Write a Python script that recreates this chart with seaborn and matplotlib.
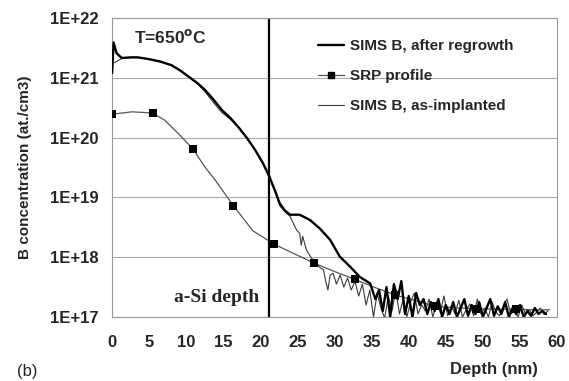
import numpy as np
import pandas as pd
import seaborn as sns
import matplotlib.pyplot as plt
from matplotlib.lines import Line2D
from matplotlib.ticker import FixedLocator, NullLocator

# SIMS B after regrowth (depth in nm, log10 of concentration)
regrowth_depth = [0.0, 0.2, 0.6, 1.3, 2.5, 3.5, 5.0, 6.5, 8.0, 9.2, 10.3, 11.5, 12.5, 13.7,
                  14.8, 16.0, 17.0, 18.2, 19.3, 20.3, 21.2, 22.0, 22.6, 23.3, 24.0, 25.3,
                  26.7, 28.0, 29.4, 30.7, 32.1, 33.4, 34.8, 35.5,
                  36.0, 36.5, 37.0, 37.5, 38.0, 38.5, 39.0, 39.5, 40.0, 40.5, 41.0, 41.5,
                  42.0, 42.5, 43.0, 43.5, 44.0, 44.5, 45.0, 45.5, 46.0, 46.5, 47.0, 47.5,
                  48.0, 48.5, 49.0, 49.5, 50.0, 50.5, 51.0, 51.5, 52.0, 52.5, 53.0, 53.5,
                  54.0, 54.5, 55.0, 55.5, 56.0, 56.5, 57.0, 57.5, 58.0, 58.5]
regrowth_log = [21.08, 21.59, 21.41, 21.33, 21.34, 21.34, 21.31, 21.27, 21.21, 21.12, 21.02,
                20.91, 20.80, 20.63, 20.46, 20.32, 20.18, 19.99, 19.79, 19.58, 19.35, 19.10,
                18.90, 18.78, 18.71, 18.71, 18.62, 18.48, 18.29, 18.01, 17.84, 17.67, 17.56,
                17.30,
                17.45, 17.10, 17.50, 17.00, 17.55, 17.30, 17.60, 17.05, 17.35, 17.00, 17.40,
                17.20, 17.30, 17.05, 17.25, 17.10, 17.30, 17.00, 17.20, 17.05, 17.25, 17.00,
                17.15, 17.30, 17.02, 17.20, 17.05, 17.25, 17.00, 17.15, 17.30, 17.02, 17.18,
                17.05, 17.25, 17.00, 17.15, 17.05, 17.20, 17.00, 17.10, 17.02, 17.15, 17.05,
                17.10, 17.05]

# SIMS B as-implanted
implant_depth = [0.3, 1.3, 2.5, 3.5, 5.0, 6.5, 8.0, 9.2, 10.3, 11.5, 12.5, 13.7, 14.8, 16.0,
                 17.0, 18.2, 19.3, 20.3, 21.2, 22.0, 22.6, 23.3, 24.0, 24.5, 24.9, 25.3, 25.5,
                 25.7, 26.2, 26.7, 27.1, 27.6, 28.1, 28.5, 28.8, 29.1, 29.4, 29.8, 30.25,
                 30.75, 31.25, 31.75, 32.25, 32.75, 33.25, 33.75, 34.25, 34.75, 35.25, 35.75,
                 36.25, 36.75, 37.25, 37.75, 38.25, 38.75, 39.25, 39.75, 40.25, 40.75, 41.25,
                 41.75, 42.25, 42.75, 43.25, 43.75, 44.25, 44.75, 45.25, 45.75, 46.25, 46.75,
                 47.25, 47.75, 48.25, 48.75, 49.25, 49.75, 50.25, 50.75, 51.25, 51.75, 52.25,
                 52.75, 53.25, 53.75, 54.25, 54.75, 55.25, 55.75, 56.25, 56.75, 57.25, 57.75,
                 58.25, 58.75]
implant_log = [21.25, 21.32, 21.34, 21.34, 21.31, 21.27, 21.21, 21.12, 21.02, 20.90, 20.77,
               20.58, 20.42, 20.30, 20.17, 19.99, 19.79, 19.58, 19.35, 19.10, 18.86, 18.76,
               18.68, 18.55, 18.45, 18.40, 18.20, 18.35, 18.12, 18.02, 17.95, 17.88, 17.82,
               17.79, 17.60, 17.45, 17.70, 17.73, 17.55, 17.70, 17.50, 17.65, 17.45, 17.60,
               17.35, 17.55, 17.20, 17.45, 17.00, 17.40, 17.15, 16.98, 17.35, 17.10, 17.45,
               17.05, 17.30, 17.00, 17.25, 17.40, 17.05, 17.20, 17.10, 17.30, 17.00, 17.22,
               17.08, 17.35, 17.02, 17.18, 17.05, 17.28, 17.00, 17.12, 17.22, 17.02, 17.30,
               17.05, 17.15, 17.00, 17.25, 17.08, 17.02, 17.18, 17.30, 17.05, 17.10, 17.00,
               17.20, 17.05, 17.12, 17.02, 17.08, 17.15, 17.04, 17.10]

# SRP profile: measured points and the smooth line drawn through them
srp_depth = [0.0, 5.45, 10.9, 16.35, 21.8, 27.25, 32.7, 38.15, 43.6, 49.05, 54.5]
srp_log = [20.39, 20.41, 19.81, 18.86, 18.22, 17.90, 17.63, 17.37, 17.18, 17.14, 17.13]
srp_line_depth = [0.0, 2.7, 5.45, 7.1, 8.9, 10.9, 12.5, 13.9, 16.35, 19.0, 21.8, 24.0,
                  27.25, 30.0, 32.7, 35.5, 38.15, 41.0, 43.6, 46.5, 49.05, 52.0, 54.5, 57.0, 59.0]
srp_line_log = [20.39, 20.43, 20.41, 20.29, 20.07, 19.81, 19.51, 19.29, 18.86, 18.44, 18.22,
                18.09, 17.90, 17.76, 17.63, 17.49, 17.37, 17.27, 17.18, 17.15, 17.14, 17.13,
                17.13, 17.12, 17.12]

y_ticks = [1e17, 1e18, 1e19, 1e20, 1e21, 1e22]
y_tick_labels = ["1E+17", "1E+18", "1E+19", "1E+20", "1E+21", "1E+22"]
x_ticks = list(range(0, 61, 5))
asi_depth = 21.2

regrowth = pd.DataFrame({"depth": regrowth_depth, "conc": 10.0 ** np.array(regrowth_log)})
implant = pd.DataFrame({"depth": implant_depth, "conc": 10.0 ** np.array(implant_log)})
srp = pd.DataFrame({"depth": srp_depth, "conc": 10.0 ** np.array(srp_log)})
srp_line = pd.DataFrame({"depth": srp_line_depth, "conc": 10.0 ** np.array(srp_line_log)})

sns.set_style("white")
plt.rcParams["font.family"] = ["Liberation Sans", "DejaVu Sans"]
plt.rcParams["font.weight"] = "bold"

fig = plt.figure(figsize=(5.69, 3.81), dpi=100)
ax = fig.add_axes([0.197, 0.168, 0.782, 0.785])
ax.set_yscale("log")

srp_color = "#555555"
implant_color = "#3a3a3a"
sns.lineplot(data=implant, x="depth", y="conc", ax=ax, color=implant_color, lw=0.8,
             sort=False, estimator=None)
sns.lineplot(data=srp_line, x="depth", y="conc", ax=ax, color=srp_color, lw=0.9,
             sort=False, estimator=None)
sns.scatterplot(data=srp, x="depth", y="conc", ax=ax, color="black", marker="s", s=30,
                linewidth=0, zorder=4)
sns.lineplot(data=regrowth, x="depth", y="conc", ax=ax, color="black", lw=1.7,
             sort=False, estimator=None, zorder=5)

ax.axvline(asi_depth, color="black", lw=1.6)

ax.set_xlim(0, 60)
ax.set_ylim(1e17, 1e22)
ax.xaxis.set_major_locator(FixedLocator(x_ticks))
ax.yaxis.set_major_locator(FixedLocator(y_ticks))
ax.yaxis.set_minor_locator(NullLocator())
ax.set_yticklabels(y_tick_labels)
ax.tick_params(axis="x", length=0, pad=13, labelsize=12)
ax.tick_params(axis="y", length=3.5, color="#888888", pad=6, labelsize=12)
ax.grid(axis="y", color="#aaaaaa", lw=0.8)
for sp in ax.spines.values():
    sp.set_color("#999999")
    sp.set_linewidth(0.8)

ax.set_ylabel("B concentration (at./cm3)", fontsize=11, fontweight="bold", labelpad=13)
ax.set_xlabel("")
fig.text(0.868, 0.029, "Depth (nm)", ha="center", va="center", fontsize=12, fontweight="bold")
fig.text(0.03, 0.024, "(b)", ha="left", va="center", fontsize=12, fontweight="normal")

ax.text(3.0, 10 ** 21.68, r"T=650$^{\mathbf{o}}$C", fontsize=12.5, fontweight="bold",
        ha="left", va="center")
ax.text(19.8, 10 ** 17.32, "a-Si depth", fontsize=14, fontweight="bold",
        family=["Liberation Serif", "DejaVu Serif"], ha="right", va="center")

handles = [
    Line2D([], [], color="black", lw=1.7),
    Line2D([], [], color=srp_color, lw=0.9, marker="s", markersize=5,
           markerfacecolor="black", markeredgecolor="black"),
    Line2D([], [], color=implant_color, lw=0.8),
]
labels = ["SIMS B, after regrowth", "SRP profile", "SIMS B, as-implanted"]
ax.legend(handles, labels, loc="upper left", bbox_to_anchor=(0.445, 0.955), frameon=False,
          fontsize=11, handlelength=1.7, handletextpad=0.4, labelspacing=1.05, borderpad=0)

fig.savefig("out.png", dpi=100)
